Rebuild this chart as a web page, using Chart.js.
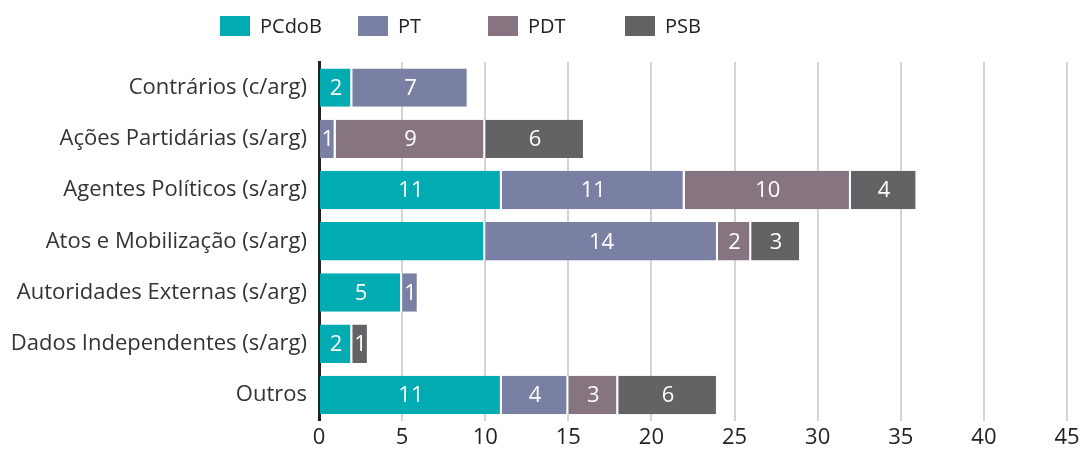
<!DOCTYPE html>
<html>
<head>
<meta charset="utf-8">
<script src="https://cdn.jsdelivr.net/npm/chart.js@4.4.1/dist/chart.umd.min.js"></script>
<style>
  html, body { margin: 0; padding: 0; background: #ffffff; }
  #wrap { width: 1081px; height: 455px; }
</style>
</head>
<body>
<div id="wrap"><canvas id="chart" width="1081" height="455"></canvas></div>
<script>
'use strict';

/* ── Data ───────────────────────────────────────── */
var categories = [
  'Contrários (c/arg)',
  'Ações Partidárias (s/arg)',
  'Agentes Políticos (s/arg)',
  'Atos e Mobilização (s/arg)',
  'Autoridades Externas (s/arg)',
  'Dados Independentes (s/arg)',
  'Outros'
];
var parties = ['PCdoB', 'PT', 'PDT', 'PSB'];
var pcdob = [2, null, 11, 10, 5, 2, 11];
var pt    = [7, 1, 11, 14, 1, null, 4];
var pdt   = [null, 9, 10, 2, null, null, 3];
var psb   = [null, 6, 4, 3, null, 1, 6];
var xTicks = [0, 5, 10, 15, 20, 25, 30, 35, 40, 45];
/* value labels not printed in the original: [category, dataset] */
var hiddenLabels = [[3, 0]];

var colors = ['#00acb1', '#7a80a3', '#877481', '#636365'];
var FONT = "'Open Sans', sans-serif";

/* ── Value labels inside segments ───────────────── */
var segmentLabels = {
  id: 'segmentLabels',
  afterDatasetsDraw: function (chart) {
    var ctx = chart.ctx;
    ctx.save();
    ctx.fillStyle = '#ffffff';
    ctx.font = '22px ' + FONT;
    ctx.textAlign = 'center';
    ctx.textBaseline = 'middle';
    chart.data.datasets.forEach(function (ds, di) {
      chart.getDatasetMeta(di).data.forEach(function (bar, ci) {
        var v = ds.data[ci];
        if (v === null || v === undefined) return;
        var skip = hiddenLabels.some(function (h) { return h[0] === ci && h[1] === di; });
        if (skip) return;
        var cx = (bar.x + bar.base) / 2;
        ctx.fillText(String(v), cx, bar.y + 1);
      });
    });
    ctx.restore();
  }
};

/* ── Legend with fixed item spacing ─────────────── */
var fixedLegend = {
  id: 'fixedLegend',
  afterDraw: function (chart) {
    var ctx = chart.ctx;
    ctx.save();
    ctx.font = '20px ' + FONT;
    ctx.textBaseline = 'middle';
    ctx.textAlign = 'left';
    var starts = [220, 358, 488, 625];
    parties.forEach(function (p, i) {
      ctx.fillStyle = colors[i];
      ctx.fillRect(starts[i], 16, 30, 20);
      ctx.fillStyle = '#222222';
      ctx.fillText(p, starts[i] + 40, 27);
    });
    ctx.restore();
  }
};

var series = [pcdob, pt, pdt, psb];

new Chart(document.getElementById('chart'), {
  type: 'bar',
  data: {
    labels: categories,
    datasets: series.map(function (d, i) {
      return {
        label: parties[i],
        data: d,
        backgroundColor: colors[i],
        borderColor: '#ffffff',
        borderWidth: { left: 0, right: 2, top: 0, bottom: 0 },
        borderSkipped: false,
        barPercentage: 0.75,
        categoryPercentage: 1.0
      };
    })
  },
  options: {
    indexAxis: 'y',
    responsive: false,
    animation: false,
    layout: { padding: { left: 8, right: 0, top: 62, bottom: 0 } },
    plugins: {
      legend: { display: false },
      tooltip: { enabled: false }
    },
    scales: {
      x: {
        stacked: true,
        min: 0, max: 45,
        afterBuildTicks: function (scale) {
          scale.ticks = xTicks.map(function (v) { return { value: v }; });
        },
        afterFit: function (scale) { scale.paddingRight = 14; },
        grid: { color: '#d4d4d4', lineWidth: 2, drawTicks: false },
        border: { display: false },
        ticks: { color: '#222222', padding: 4, font: { family: FONT, size: 22 } }
      },
      y: {
        stacked: true,
        afterFit: function (scale) { scale.width = 311; },
        grid: { display: false },
        border: { display: true, color: '#222222', width: 3 },
        ticks: { color: '#333333', padding: 4, font: { family: FONT, size: 22 } }
      }
    }
  },
  plugins: [segmentLabels, fixedLegend]
});
</script>
</body>
</html>
